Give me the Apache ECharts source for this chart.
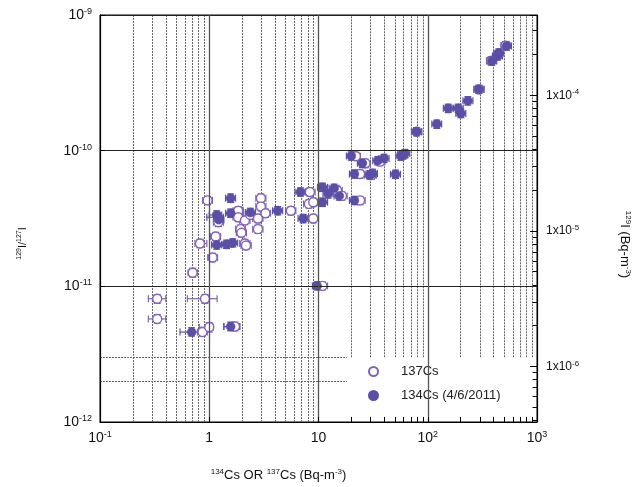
<!DOCTYPE html>
<html><head><meta charset="utf-8">
<script src="https://cdn.jsdelivr.net/npm/echarts@6/dist/echarts.min.js"></script>
<style>html,body{margin:0;padding:0;background:#fff}#c{width:638px;height:487px}</style>
</head><body><div id="c"></div>
<script>
// tick values
const xTicks = [0.1, 1, 10, 100, 1000];
const yTicks = [1e-12, 1e-11, 1e-10, 1e-9];
const rightTicks = [1e-6, 1e-5, 1e-4];
const xMinor = [0.2,0.3,0.4,0.5,0.6,0.7,0.8,0.9, 2,3,4,5,6,7,8,9, 20,30,40,50,60,70,80,90, 200,300,400,500,600,700,800,900];
const yMinor = [2e-12,3e-12,4e-12,5e-12,6e-12,7e-12,8e-12,9e-12, 2e-11,3e-11,4e-11,5e-11,6e-11,7e-11,8e-11,9e-11, 2e-10,3e-10,4e-10,5e-10,6e-10,7e-10,8e-10,9e-10];
const rightMinor = [4e-7,5e-7,6e-7,7e-7,8e-7,9e-7, 2e-6,3e-6,4e-6,5e-6,6e-6,7e-6,8e-6,9e-6, 2e-5,3e-5,4e-5,5e-5,6e-5,7e-5,8e-5,9e-5, 2e-4,3e-4];
// corner of the legend box (data units): grid lines stop there
const legendBoxX = 18.2;
const legendBoxY = 3e-12;

// [Cs, 129I/127I, xLow, xHigh, yLow, yHigh]
const cs137 = [
  [0.334, 8.1e-12, 0.277, 0.40, 7.5e-12, 8.7e-12],
  [0.914, 8.1e-12, 0.63, 1.18, 7.5e-12, 8.7e-12],
  [0.334, 5.75e-12, 0.277, 0.40, 5.35e-12, 6.2e-12],
  [0.867, 4.6e-12, 0.78, 0.96, 4.3e-12, 4.95e-12],
  [1.0, 5.0e-12, 0.81, 1.09, 4.6e-12, 5.4e-12],
  [1.72, 5.05e-12, 1.36, 1.9, 4.7e-12, 5.45e-12],
  [0.705, 1.26e-11, 0.64, 0.78, 1.17e-11, 1.36e-11],
  [1.074, 1.63e-11, 0.97, 1.19, 1.52e-11, 1.75e-11],
  [0.822, 2.07e-11, 0.74, 0.95, 1.93e-11, 2.22e-11],
  [1.145, 2.33e-11, 1.03, 1.27, 2.17e-11, 2.5e-11],
  [2.12, 2.07e-11, 1.9, 2.36, 1.93e-11, 2.22e-11],
  [2.17, 2.0e-11, 1.95, 2.42, 1.87e-11, 2.15e-11],
  [1.93, 2.64e-11, 1.74, 2.14, 2.46e-11, 2.83e-11],
  [1.97, 2.48e-11, 1.77, 2.19, 2.31e-11, 2.66e-11],
  [2.79, 2.64e-11, 2.5, 3.1, 2.46e-11, 2.83e-11],
  [0.966, 4.3e-11, 0.87, 1.07, 4.0e-11, 4.6e-11],
  [2.97, 4.46e-11, 2.67, 3.3, 4.15e-11, 4.8e-11],
  [2.97, 3.87e-11, 2.67, 3.3, 3.6e-11, 4.15e-11],
  [1.84, 3.61e-11, 1.65, 2.05, 3.36e-11, 3.87e-11],
  [1.84, 3.23e-11, 1.65, 2.05, 3.0e-11, 3.47e-11],
  [2.12, 3.06e-11, 1.9, 2.36, 2.85e-11, 3.28e-11],
  [2.38, 3.36e-11, 2.14, 2.65, 3.13e-11, 3.6e-11],
  [2.79, 3.16e-11, 2.5, 3.1, 2.94e-11, 3.39e-11],
  [3.27, 3.46e-11, 2.94, 3.64, 3.22e-11, 3.71e-11],
  [1.21, 2.97e-11, 1.09, 1.35, 2.76e-11, 3.18e-11],
  [5.59, 3.61e-11, 5.0, 6.2, 3.36e-11, 3.87e-11],
  [8.34, 4.96e-11, 7.5, 9.3, 4.62e-11, 5.32e-11],
  [8.17, 4.05e-11, 7.3, 9.1, 3.77e-11, 4.34e-11],
  [8.95, 4.17e-11, 8.0, 10.0, 3.88e-11, 4.47e-11],
  [8.95, 3.16e-11, 8.0, 10.0, 2.94e-11, 3.39e-11],
  [10.86, 1.007e-11, 9.8, 12.1, 9.4e-12, 1.08e-11],
  [14.8, 5.09e-11, 13.3, 16.5, 4.74e-11, 5.46e-11],
  [16.4, 4.64e-11, 14.7, 18.3, 4.32e-11, 4.97e-11],
  [24.0, 4.3e-11, 21.6, 26.7, 4.0e-11, 4.6e-11],
  [24.0, 6.73e-11, 21.6, 26.7, 6.27e-11, 7.2e-11],
  [26.9, 8.07e-11, 24.2, 29.9, 7.5e-11, 8.65e-11],
  [22.0, 9.1e-11, 20.0, 24.2, 8.5e-11, 9.75e-11],
  [36.5, 8.3e-11, 33, 40.5, 7.75e-11, 8.9e-11],
  [30.5, 6.6e-11, 27.5, 34, 6.15e-11, 7.1e-11],
  [79, 1.38e-10, 71, 88, 1.29e-10, 1.48e-10],
  [294, 2.83e-10, 265, 327, 2.64e-10, 3.03e-10],
  [380, 4.6e-10, 345, 420, 4.3e-10, 4.93e-10],
  [440, 5.1e-10, 400, 485, 4.75e-10, 5.47e-10],
  [515, 5.95e-10, 468, 567, 5.55e-10, 6.38e-10]
];
const cs134 = [
  [0.69, 4.6e-12, 0.54, 0.87, 4.3e-12, 4.95e-12],
  [1.57, 5.05e-12, 1.36, 1.9, 4.7e-12, 5.45e-12],
  [1.17, 2.02e-11, 1.05, 1.3, 1.88e-11, 2.17e-11],
  [1.44, 2.04e-11, 1.3, 1.6, 1.9e-11, 2.19e-11],
  [1.64, 2.09e-11, 1.48, 1.82, 1.95e-11, 2.24e-11],
  [1.57, 4.46e-11, 1.41, 1.74, 4.15e-11, 4.8e-11],
  [1.17, 3.36e-11, 1.0, 1.3, 3.13e-11, 3.6e-11],
  [1.21, 3.23e-11, 0.95, 1.35, 3.0e-11, 3.47e-11],
  [1.22, 3.1e-11, 1.1, 1.36, 2.9e-11, 3.33e-11],
  [1.57, 3.46e-11, 1.41, 1.74, 3.22e-11, 3.71e-11],
  [2.38, 3.5e-11, 2.14, 2.65, 3.26e-11, 3.76e-11],
  [4.23, 3.61e-11, 3.8, 4.7, 3.36e-11, 3.87e-11],
  [6.83, 4.96e-11, 6.1, 7.6, 4.62e-11, 5.32e-11],
  [7.24, 3.16e-11, 6.5, 8.05, 2.94e-11, 3.39e-11],
  [10.86, 4.17e-11, 9.8, 12.1, 3.88e-11, 4.47e-11],
  [9.73, 1.007e-11, 8.8, 10.8, 9.4e-12, 1.08e-11],
  [10.86, 5.37e-11, 9.8, 12.1, 5.0e-11, 5.76e-11],
  [12.27, 4.8e-11, 11.0, 13.6, 4.47e-11, 5.15e-11],
  [13.9, 5.28e-11, 12.5, 15.4, 4.92e-11, 5.66e-11],
  [15.5, 4.64e-11, 13.9, 17.2, 4.32e-11, 4.97e-11],
  [21.3, 4.3e-11, 19.2, 23.6, 4.0e-11, 4.6e-11],
  [19.95, 9.14e-11, 18.0, 22.1, 8.5e-11, 9.8e-11],
  [25.2, 8.07e-11, 22.7, 28, 7.5e-11, 8.65e-11],
  [34.9, 8.44e-11, 31.4, 38.7, 7.86e-11, 9.05e-11],
  [39.8, 8.77e-11, 35.8, 44.2, 8.17e-11, 9.4e-11],
  [56.7, 9.14e-11, 51, 63, 8.5e-11, 9.8e-11],
  [59, 9.3e-11, 53, 65.5, 8.66e-11, 9.97e-11],
  [61.7, 9.53e-11, 55.5, 68.5, 8.87e-11, 1.02e-10],
  [21.3, 6.73e-11, 19.2, 23.6, 6.27e-11, 7.2e-11],
  [29.5, 6.62e-11, 26.5, 32.7, 6.17e-11, 7.1e-11],
  [31.2, 6.8e-11, 28, 34.6, 6.33e-11, 7.3e-11],
  [50.7, 6.7e-11, 45.6, 56.3, 6.24e-11, 7.18e-11],
  [79, 1.38e-10, 71, 88, 1.29e-10, 1.48e-10],
  [121, 1.57e-10, 109, 134, 1.46e-10, 1.68e-10],
  [154, 2.05e-10, 139, 171, 1.91e-10, 2.2e-10],
  [190, 2.05e-10, 171, 211, 1.91e-10, 2.2e-10],
  [201, 1.88e-10, 181, 223, 1.75e-10, 2.02e-10],
  [233, 2.33e-10, 210, 259, 2.17e-10, 2.5e-10],
  [294, 2.83e-10, 265, 327, 2.64e-10, 3.03e-10],
  [386, 4.58e-10, 348, 428, 4.27e-10, 4.91e-10],
  [434, 4.99e-10, 391, 482, 4.65e-10, 5.35e-10],
  [447, 5.25e-10, 402, 496, 4.89e-10, 5.63e-10],
  [526, 5.91e-10, 473, 584, 5.5e-10, 6.33e-10]
];

const OPEN = '#8262b4';
const FILL = '#5a4ea6';
const FONT = '"Liberation Sans", Arial, Helvetica, sans-serif';

function isPow10(v, list) {
  return list.some(t => Math.abs(Math.log10(v) - Math.log10(t)) < 1e-6);
}
function expOf(v) { return Math.round(Math.log10(v)); }

function errRender(params, api) {
  const x = api.value(0), y = api.value(1);
  const a = api.coord([api.value(2), y]);
  const b = api.coord([api.value(3), y]);
  const c = api.coord([x, api.value(4)]);
  const d = api.coord([x, api.value(5)]);
  const cap = 3.5;
  const style = { stroke: api.visual('color'), lineWidth: 1.2, fill: null };
  const L = (x1, y1, x2, y2) => ({ type: 'line', shape: { x1, y1, x2, y2 }, style });
  return { type: 'group', children: [
    L(a[0], a[1], b[0], b[1]),
    L(a[0], a[1] - cap, a[0], a[1] + cap),
    L(b[0], b[1] - cap, b[0], b[1] + cap),
    L(c[0], c[1], d[0], d[1]),
    L(c[0] - cap, c[1], c[0] + cap, c[1]),
    L(d[0] - cap, d[1], d[0] + cap, d[1])
  ]};
}

const supRich = (base, sup) => ({
  b: { fontSize: base, fontFamily: FONT, color: '#111', lineHeight: base + 2 },
  s: { fontSize: sup, fontFamily: FONT, color: '#111', verticalAlign: 'top', lineHeight: sup + 1, padding: [0, 0, base - sup, 0] }
});

// minor grid lines: stop at the legend box
const minorLines = [];
xMinor.forEach(v => {
  if (v < legendBoxX) minorLines.push({ xAxis: v });
  else minorLines.push([{ coord: [v, legendBoxY] }, { coord: [v, 1e-9] }]);
});
yMinor.forEach(v => {
  if (v > legendBoxY) minorLines.push({ yAxis: v });
  else minorLines.push([{ coord: [0.1, v] }, { coord: [legendBoxX, v] }]);
});
// minor ticks along the bottom inside the legend box
const bottomTicks = xMinor.filter(v => v > legendBoxX).map(v => [{ coord: [v, 1e-12] }, { coord: [v, 1.09e-12] }]);
// right-axis minor ticks
const rightMinorTicks = rightMinor.map(v => [{ coord: [1000, v] }, { coord: [910, v] }]);

const chart = echarts.init(document.getElementById('c'));
chart.setOption({
  animation: false,
  backgroundColor: '#fff',
  grid: { left: 100, right: 101, top: 15, bottom: 65, outerBoundsMode: 'none', containLabel: false,
          show: true, borderColor: '#000', borderWidth: 1, backgroundColor: 'transparent' },
  legend: {
    orient: 'vertical', left: 347, top: 357,
    padding: [8, 10, 10, 21], itemGap: 11, itemWidth: 9, itemHeight: 9,
    textStyle: { fontSize: 13, fontFamily: FONT, color: '#222', padding: [0, 0, 0, 18] },
    data: ['137Cs', '134Cs (4/6/2011)']
  },
  xAxis: {
    type: 'log', logBase: 10, min: 0.1, max: 1000, z: 10,
    name: '{s|134}{b|Cs OR }{s|137}{b|Cs (Bq-m}{s|-3}{b|)}',
    nameLocation: 'middle', nameGap: 46,
    nameTextStyle: { rich: supRich(13, 8), padding: [0, 80, 0, 0] },
    axisLine: { lineStyle: { color: '#000', width: 1 } },
    axisTick: { inside: true, length: 5, lineStyle: { color: '#000' } },
    axisLabel: {
      margin: 8,
      formatter: v => {
        if (!isPow10(v, xTicks)) return '';
        const e = expOf(v);
        if (e === 0) return '{b|1}';
        if (e === 1) return '{b|10}';
        return '{b|10}{s|' + e + '}';
      },
      rich: supRich(14, 9)
    },
    splitLine: { show: true, lineStyle: { color: '#555', width: 1.3 } }
  },
  yAxis: [{
    type: 'log', logBase: 10, min: 1e-12, max: 1e-9, z: 10,
    name: '{s|129}{b|I/}{s|127}{b|I}',
    nameLocation: 'middle', nameGap: 71, nameRotate: 90,
    nameTextStyle: { rich: supRich(11, 7), padding: [0, 50, 0, 0] },
    axisLine: { lineStyle: { color: '#000', width: 1 } },
    axisTick: { inside: true, length: 5, lineStyle: { color: '#000' } },
    axisLabel: {
      margin: 8,
      formatter: v => isPow10(v, yTicks) ? '{b|10}{s|' + expOf(v) + '}' : '',
      rich: supRich(14, 9)
    },
    splitLine: { show: true, lineStyle: { color: '#222', width: 1.2 } }
  }, {
    type: 'log', logBase: 10, min: 3.9e-7, max: 3.9e-4, position: 'right', z: 10,
    name: '{s|129}{b|I (Bq-m}{s|-3}{b|)}',
    nameLocation: 'middle', nameGap: 80, nameRotate: -90,
    nameTextStyle: { rich: supRich(13, 8), padding: [0, 0, 0, 52] },
    axisLine: { show: true, lineStyle: { color: '#000', width: 1 } },
    axisTick: { show: true, inside: true, length: 7, lineStyle: { color: '#000' } },
    axisLabel: {
      margin: 9,
      formatter: v => isPow10(v, rightTicks) ? '{b|1x10}{s|' + expOf(v) + '}' : '',
      rich: supRich(12, 8)
    },
    splitLine: { show: false }
  }],
  series: [
    {
      type: 'scatter', name: 'minor grid', data: [], silent: true, z: 1,
      markLine: {
        silent: true, symbol: ['none', 'none'], label: { show: false },
        lineStyle: { color: '#666', width: 1, type: [2, 1] },
        animation: false,
        data: minorLines
      }
    },
    {
      type: 'scatter', name: 'bottom ticks', data: [], silent: true, z: 1,
      markLine: {
        silent: true, symbol: ['none', 'none'], label: { show: false },
        lineStyle: { color: '#000', width: 1, type: 'solid' },
        animation: false,
        data: bottomTicks
      }
    },
    {
      type: 'scatter', name: 'right ticks', yAxisIndex: 1, data: [], silent: true, z: 1,
      markLine: {
        silent: true, symbol: ['none', 'none'], label: { show: false },
        lineStyle: { color: '#000', width: 1, type: 'solid' },
        animation: false,
        data: rightMinorTicks
      }
    },
    {
      type: 'custom', name: 'err137', renderItem: errRender, data: cs137, z: 4,
      itemStyle: { color: OPEN }, encode: { x: 0, y: 1 }, clip: true, silent: true
    },
    {
      type: 'custom', name: 'err134', renderItem: errRender, data: cs134, z: 4,
      itemStyle: { color: FILL }, encode: { x: 0, y: 1 }, clip: true, silent: true
    },
    {
      type: 'scatter', name: '137Cs', data: cs137, symbol: 'circle', symbolSize: 9, z: 5,
      encode: { x: 0, y: 1 },
      itemStyle: { color: '#fff', borderColor: OPEN, borderWidth: 1.4, opacity: 1 }
    },
    {
      type: 'scatter', name: '134Cs (4/6/2011)', data: cs134, symbol: 'circle', symbolSize: 9, z: 6,
      encode: { x: 0, y: 1 },
      itemStyle: { color: FILL, borderColor: FILL, borderWidth: 0.5, opacity: 1 }
    }
  ]
});
</script>
</body></html>
